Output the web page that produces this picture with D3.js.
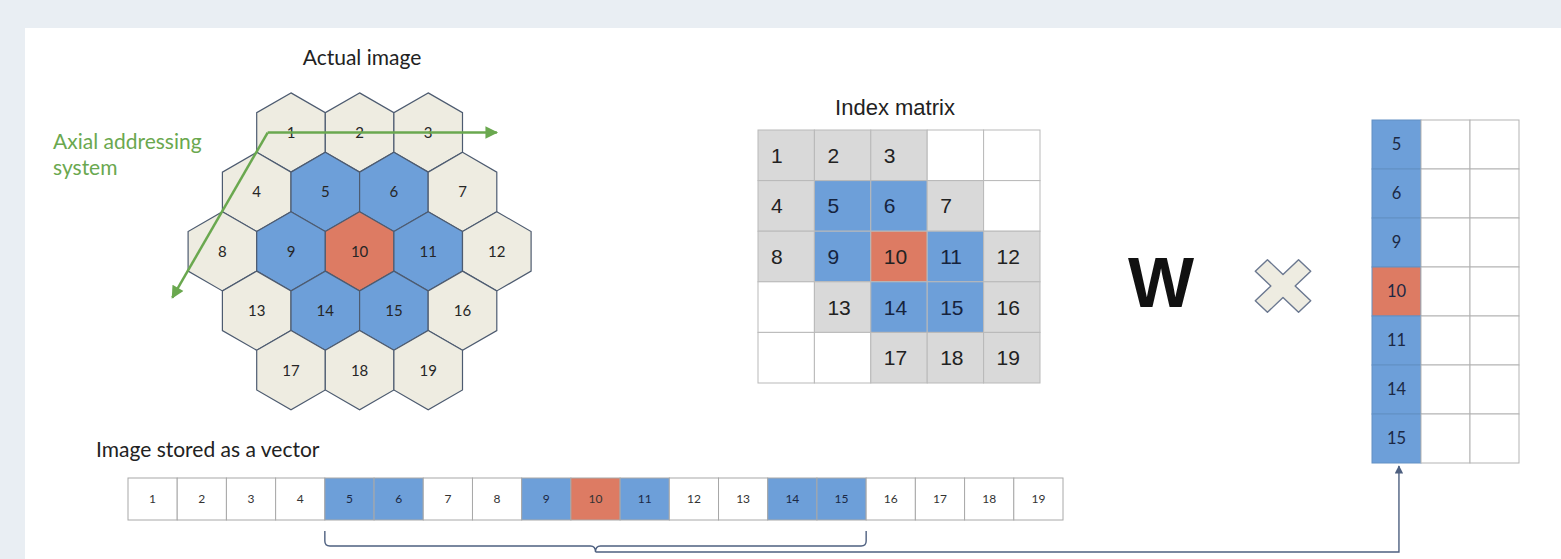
<!DOCTYPE html>
<html>
<head>
<meta charset="utf-8">
<script src="https://cdn.jsdelivr.net/npm/d3@7"></script>
<style>
html, body { margin: 0; padding: 0; background: #e9eef3; }
svg { display: block; }
</style>
</head>
<body>
<script>
// index matrix = axial layout of the hex image (null = no pixel)
const indexMatrix = [
    [1, 2, 3, null, null],
    [4, 5, 6, 7, null],
    [8, 9, 10, 11, 12],
    [null, 13, 14, 15, 16],
    [null, null, 17, 18, 19]
];
const centerCell = 10;
const neighbourCells = [5, 6, 9, 11, 14, 15];
const vectorCells = d3.range(1, 20);
const columnCells = [5, 6, 9, 10, 11, 14, 15];
const columnCount = 3;
const axisLabel = ['Axial addressing', 'system'];

const width = 1561, height = 559;
const beige = '#eeece1', blue = '#6d9fd9', red = '#dd7b63', grey = '#d9d9d9';
const green = '#6aa84f', slate = '#4e6080';
const calibri = 'Lato, "Open Sans", sans-serif';
const arial = '"Liberation Sans", Arial, sans-serif';

function cellFill(id, other) {
    if (id === centerCell) return red;
    if (neighbourCells.indexOf(id) > -1) return blue;
    return other;
}

const svg = d3.select('body').append('svg')
    .attr('width', width)
    .attr('height', height);

// white card
svg.append('rect')
    .attr('x', 25).attr('y', 28)
    .attr('width', width - 25).attr('height', height - 28)
    .attr('fill', 'white');

const defs = svg.append('defs');
[['arrow-green', green, 9], ['arrow-slate', slate, 6]].forEach(function (m) {
    defs.append('marker')
        .attr('id', m[0])
        .attr('viewBox', '0 -5 10 10')
        .attr('refX', 9).attr('refY', 0)
        .attr('markerUnits', 'userSpaceOnUse')
        .attr('markerWidth', m[2] * 1.6).attr('markerHeight', m[2] * 1.4)
        .attr('orient', 'auto')
        .append('path')
        .attr('d', 'M0,-5L10,0L0,5Z')
        .attr('fill', m[1]);
});

// ---------- hex image ----------
const cells = [];
indexMatrix.forEach(function (row, r) {
    row.forEach(function (id, q) {
        cells.push({id: id, q: q, r: r});
    });
});

const hexW = 68.6, hexR = hexW / Math.sqrt(3);
const hx = d3.scaleLinear().domain([0, 1]).range([291, 291 + hexW]);        // q - r/2
const hy = d3.scaleLinear().domain([0, 1]).range([132.5, 132.5 + 1.5 * hexR]); // r
const hexCorners = d3.range(6).map(function (k) {
    const a = (-90 + 60 * k) * Math.PI / 180;
    return [hexR * Math.cos(a), hexR * Math.sin(a)];
});

const hexG = svg.append('g').selectAll('.hex')
    .data(cells.filter(d => d.id !== null))
    .enter()
    .append('g')
    .attr('class', 'hex')
    .attr('transform', d => 'translate(' + hx(d.q - d.r / 2) + ',' + hy(d.r) + ')');

hexG.append('path')
    .attr('d', d3.line()(hexCorners) + 'Z')
    .attr('fill', d => cellFill(d.id, beige))
    .attr('stroke', '#4d5b70')
    .attr('stroke-width', 1.2);

hexG.append('text')
    .text(d => d.id)
    .attr('dy', '0.36em')
    .attr('text-anchor', 'middle')
    .attr('font-family', calibri)
    .attr('font-size', 15)
    .attr('fill', '#262626');

svg.append('text')
    .text('Actual image')
    .attr('x', 362).attr('y', 65)
    .attr('text-anchor', 'middle')
    .attr('font-family', calibri)
    .attr('font-size', 21)
    .attr('fill', '#222');

// axial axes
const origin = [-0.34, 0];
const axes = [[3.0, 0], [-0.34, 2.78]];
axes.forEach(function (end) {
    svg.append('line')
        .attr('x1', hx(origin[0] - origin[1] / 2)).attr('y1', hy(origin[1]))
        .attr('x2', hx(end[0] - end[1] / 2)).attr('y2', hy(end[1]))
        .attr('stroke', green)
        .attr('stroke-width', 2.5)
        .attr('marker-end', 'url(#arrow-green)');
});

svg.append('g').selectAll('text')
    .data(axisLabel)
    .enter()
    .append('text')
    .text(d => d)
    .attr('x', 53)
    .attr('y', (d, i) => 149 + i * 26)
    .attr('font-family', calibri)
    .attr('font-size', 21)
    .attr('fill', green);

// ---------- index matrix ----------
const mx = d3.scaleLinear().domain([0, 5]).range([758, 1040]);
const my = d3.scaleLinear().domain([0, 5]).range([130, 383]);

const mG = svg.append('g').selectAll('.mcell')
    .data(cells)
    .enter()
    .append('g')
    .attr('class', 'mcell');

mG.append('rect')
    .attr('x', d => mx(d.q))
    .attr('y', d => my(d.r))
    .attr('width', mx(1) - mx(0))
    .attr('height', my(1) - my(0))
    .attr('fill', d => d.id === null ? 'white' : cellFill(d.id, grey))
    .attr('stroke', '#b9b9b9')
    .attr('stroke-width', 1);

mG.append('text')
    .text(d => d.id === null ? '' : d.id)
    .attr('x', d => mx(d.q) + 13)
    .attr('y', d => my(d.r + 0.5))
    .attr('dy', '0.36em')
    .attr('font-family', arial)
    .attr('font-size', 21)
    .attr('fill', d => cellFill(d.id, '') === blue ? '#16233d' : '#222');

svg.append('text')
    .text('Index matrix')
    .attr('x', 895).attr('y', 115)
    .attr('text-anchor', 'middle')
    .attr('font-family', arial)
    .attr('font-size', 22)
    .attr('fill', '#222');

// ---------- W x column ----------
svg.append('text')
    .text('W')
    .attr('x', 1161).attr('y', 307)
    .attr('text-anchor', 'middle')
    .attr('font-family', arial)
    .attr('font-weight', 'bold')
    .attr('font-size', 70)
    .attr('fill', '#111');

const armT = 8.6, armL = 30.6;
const plus = [[-armT, -armL], [armT, -armL], [armT, -armT], [armL, -armT], [armL, armT], [armT, armT],
    [armT, armL], [-armT, armL], [-armT, armT], [-armL, armT], [-armL, -armT], [-armT, -armT]];
svg.append('path')
    .attr('d', d3.line()(plus) + 'Z')
    .attr('transform', 'translate(1283,286) scale(1,0.95) rotate(45)')
    .attr('fill', beige)
    .attr('stroke', '#6b7890')
    .attr('stroke-width', 1.4)
    .attr('stroke-linejoin', 'round');

const cx = d3.scaleLinear().domain([0, columnCount]).range([1372, 1519]);
const cy = d3.scaleLinear().domain([0, columnCells.length]).range([120, 463]);

const colData = [];
columnCells.forEach(function (id, r) {
    d3.range(columnCount).forEach(function (c) {
        colData.push({id: c === 0 ? id : null, r: r, c: c});
    });
});

const cG = svg.append('g').selectAll('.ccell')
    .data(colData)
    .enter()
    .append('g')
    .attr('class', 'ccell');

cG.append('rect')
    .attr('x', d => cx(d.c))
    .attr('y', d => cy(d.r))
    .attr('width', cx(1) - cx(0))
    .attr('height', cy(1) - cy(0))
    .attr('fill', d => d.id === null ? 'white' : cellFill(d.id, 'white'))
    .attr('stroke', d => d.id === null ? '#b3b3b3' : '#6390c4')
    .attr('stroke-width', 1);

cG.append('text')
    .text(d => d.id === null ? '' : d.id)
    .attr('x', d => cx(d.c + 0.5))
    .attr('y', d => cy(d.r + 0.5))
    .attr('dy', '0.36em')
    .attr('text-anchor', 'middle')
    .attr('font-family', calibri)
    .attr('font-size', 16.5)
    .attr('fill', '#1b2844');

// ---------- vector ----------
const vx = d3.scaleLinear().domain([0, vectorCells.length]).range([128, 1063]);
const vTop = 478, vBottom = 520;

svg.append('text')
    .text('Image stored as a vector')
    .attr('x', 96).attr('y', 457)
    .attr('font-family', calibri)
    .attr('font-size', 21)
    .attr('fill', '#222');

const vG = svg.append('g').selectAll('.vcell')
    .data(vectorCells)
    .enter()
    .append('g')
    .attr('class', 'vcell');

vG.append('rect')
    .attr('x', (d, i) => vx(i))
    .attr('y', vTop)
    .attr('width', vx(1) - vx(0))
    .attr('height', vBottom - vTop)
    .attr('fill', d => cellFill(d, 'white'))
    .attr('stroke', '#a8a8a8')
    .attr('stroke-width', 1);

vG.append('text')
    .text(d => d)
    .attr('x', (d, i) => vx(i + 0.5))
    .attr('y', (vTop + vBottom) / 2)
    .attr('dy', '0.36em')
    .attr('text-anchor', 'middle')
    .attr('font-family', calibri)
    .attr('font-size', 12)
    .attr('fill', d => cellFill(d, '') === blue ? '#1b2844' : '#333');

// brace under the receptive field, and the arrow to the column
const first = vectorCells.indexOf(columnCells[0]);
const last = vectorCells.indexOf(columnCells[columnCells.length - 1]) + 1;
const bl = vx(first), br = vx(last), bm = (bl + br) / 2;
const bTop = 531, bLine = 546, bTip = 552;
const brace = d3.path();
brace.moveTo(bl, bTop);
brace.lineTo(bl, bLine - 5);
brace.quadraticCurveTo(bl, bLine, bl + 5, bLine);
brace.lineTo(bm - 5, bLine);
brace.quadraticCurveTo(bm, bLine, bm, bTip);
brace.quadraticCurveTo(bm, bLine, bm + 5, bLine);
brace.lineTo(br - 5, bLine);
brace.quadraticCurveTo(br, bLine, br, bLine - 5);
brace.lineTo(br, bTop);
svg.append('path')
    .attr('d', brace.toString())
    .attr('fill', 'none')
    .attr('stroke', slate)
    .attr('stroke-width', 1.4);

const ax = cx(0.55);
svg.append('path')
    .attr('d', d3.line()([[bm, bTip], [ax, bTip], [ax, cy(columnCells.length) + 3]]))
    .attr('fill', 'none')
    .attr('stroke', slate)
    .attr('stroke-width', 1.4)
    .attr('marker-end', 'url(#arrow-slate)');
</script>
</body>
</html>
